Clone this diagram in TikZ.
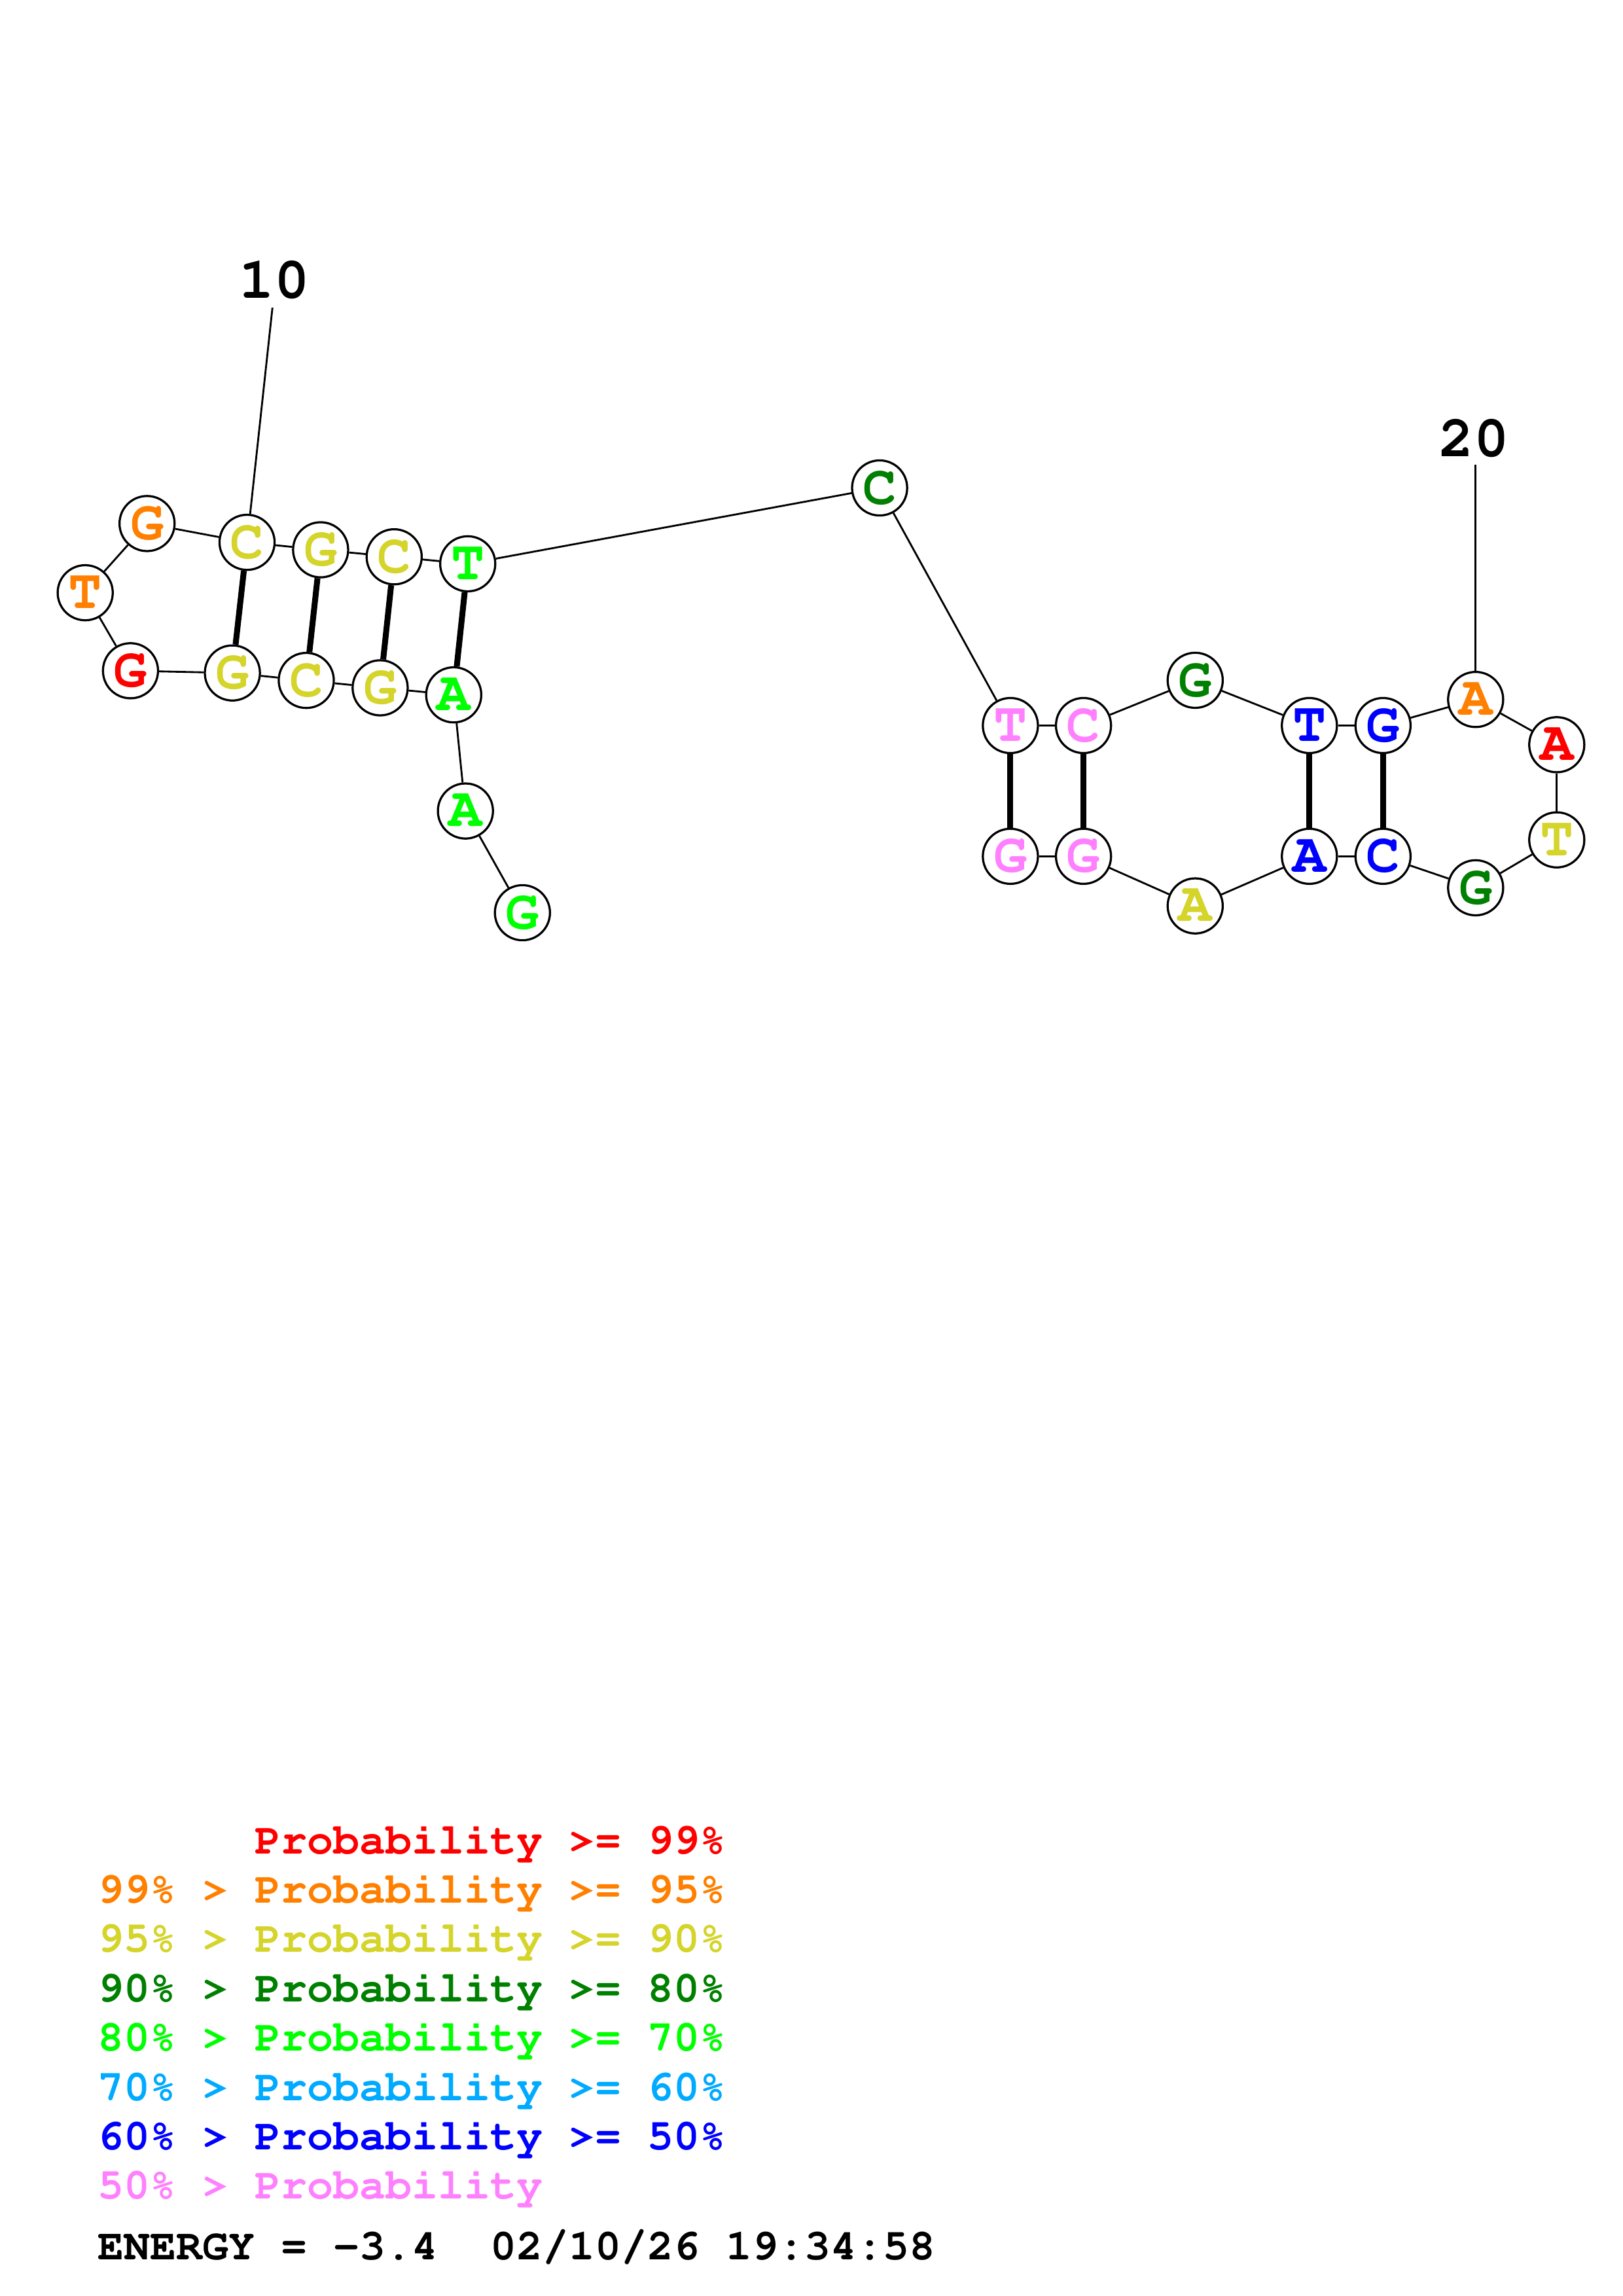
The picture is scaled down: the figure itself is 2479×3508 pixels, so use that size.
\documentclass[tikz,border=0pt]{standalone}
\usepackage[T1]{fontenc}
\newcommand\courb{\fontfamily{pcr}\fontseries{b}\selectfont}
\definecolor{pRed}{RGB}{255,0,0}
\definecolor{pOrange}{RGB}{255,128,0}
\definecolor{pYellow}{RGB}{212,212,42}
\definecolor{pDkGreen}{RGB}{0,128,0}
\definecolor{pGreen}{RGB}{0,255,0}
\definecolor{pLtBlue}{RGB}{0,170,255}
\definecolor{pBlue}{RGB}{0,0,255}
\definecolor{pPink}{RGB}{255,128,255}
\tikzset{
  nt/.style={circle, draw=black, line width=0.78bp, fill=white, minimum size=20.2bp, inner sep=0pt,
    font=\courb\fontsize{20.5bp}{20.5bp}\selectfont},
  bb/.style={line width=0.68bp, black},
  bond/.style={line width=2.16bp, black},
  numlbl/.style={inner sep=0pt, font=\courb\fontsize{21.5bp}{21.5bp}\selectfont},
  legend/.style={anchor=base west, inner sep=0pt, font=\courb\fontsize{16bp}{16bp}\selectfont}
}
\begin{document}
\begin{tikzpicture}[x=0.24bp, y=-0.24bp]
\useasboundingbox (0,0) rectangle (2479,3508);
\coordinate (l10top) at (416.3,470);
\coordinate (l20top) at (2254.8,710);
% nucleotides
\node[nt, text=pGreen]   (n1)  at (798.3,1394.5) {G};
\node[nt, text=pGreen]   (n2)  at (711.2,1239.1) {A};
\node[nt, text=pGreen]   (n3)  at (693.3,1061.6) {A};
\node[nt, text=pYellow]  (n4)  at (580.9,1050.9) {G};
\node[nt, text=pYellow]  (n5)  at (468.0,1039.6) {C};
\node[nt, text=pYellow]  (n6)  at (355.1,1028.2) {G};
\node[nt, text=pRed]     (n7)  at (199.4,1024.8) {G};
\node[nt, text=pOrange]  (n8)  at (130.2,905.6) {T};
\node[nt, text=pOrange]  (n9)  at (224.7,799.9) {G};
\node[nt, text=pYellow]  (n10) at (377.5,828.6) {C};
\node[nt, text=pYellow]  (n11) at (489.9,840.0) {G};
\node[nt, text=pYellow]  (n12) at (602.3,850.7) {C};
\node[nt, text=pGreen]   (n13) at (714.7,861.4) {T};
\node[nt, text=pDkGreen] (n14) at (1344.1,745.5) {C};
\node[nt, text=pPink]    (n15) at (1543.9,1108.5) {T};
\node[nt, text=pPink]    (n16) at (1655.6,1108.5) {C};
\node[nt, text=pDkGreen] (n17) at (1826.3,1039.4) {G};
\node[nt, text=pBlue]    (n18) at (2000.8,1108.5) {T};
\node[nt, text=pBlue]    (n19) at (2113.3,1108.5) {G};
\node[nt, text=pOrange]  (n20) at (2254.8,1068.7) {A};
\node[nt, text=pRed]     (n21) at (2378.8,1137.8) {A};
\node[nt, text=pYellow]  (n22) at (2378.8,1283.2) {T};
\node[nt, text=pDkGreen] (n23) at (2254.8,1356.4) {G};
\node[nt, text=pBlue]    (n24) at (2113.3,1308.3) {C};
\node[nt, text=pBlue]    (n25) at (2000.8,1308.3) {A};
\node[nt, text=pYellow]  (n26) at (1826.3,1384.1) {A};
\node[nt, text=pPink]    (n27) at (1655.6,1308.3) {G};
\node[nt, text=pPink]    (n28) at (1543.9,1308.3) {G};
% backbone
\foreach \a/\b in {1/2,2/3,3/4,4/5,5/6,6/7,7/8,8/9,9/10,10/11,11/12,12/13,13/14,14/15,15/16,16/17,17/18,18/19,19/20,20/21,21/22,22/23,23/24,24/25,25/26,26/27,27/28}
  \draw[bb] (n\a) -- (n\b);
% base pairs
\foreach \a/\b in {10/6,11/5,12/4,13/3,15/28,16/27,18/25,19/24}
  \draw[bond] (n\a) -- (n\b);
% numbering
\node[numlbl] (lab10) at (419.7,428) {10};
\node[numlbl] (lab20) at (2252.5,670) {20};
\draw[bb] (l10top) -- (n10);
\draw[bb] (l20top) -- (n20);
% legend
\node[legend, text=pRed]     (lg1) at (149,2832) {\phantom{99\% > }Probability >= 99\%};
\node[legend, text=pOrange]  (lg2) at (149,2907.4) {99\% > Probability >= 95\%};
\node[legend, text=pYellow]  (lg3) at (149,2982.8) {95\% > Probability >= 90\%};
\node[legend, text=pDkGreen] (lg4) at (149,3058.2) {90\% > Probability >= 80\%};
\node[legend, text=pGreen]   (lg5) at (149,3133.6) {80\% > Probability >= 70\%};
\node[legend, text=pLtBlue]  (lg6) at (149,3209.0) {70\% > Probability >= 60\%};
\node[legend, text=pBlue]    (lg7) at (149,3284.4) {60\% > Probability >= 50\%};
\node[legend, text=pPink]    (lg8) at (149,3359.8) {50\% > Probability};
\node[legend, text=black]    (energy) at (149,3452.6) {ENERGY = -3.4~~02/10/26 19:34:58};
\end{tikzpicture}
\end{document}
